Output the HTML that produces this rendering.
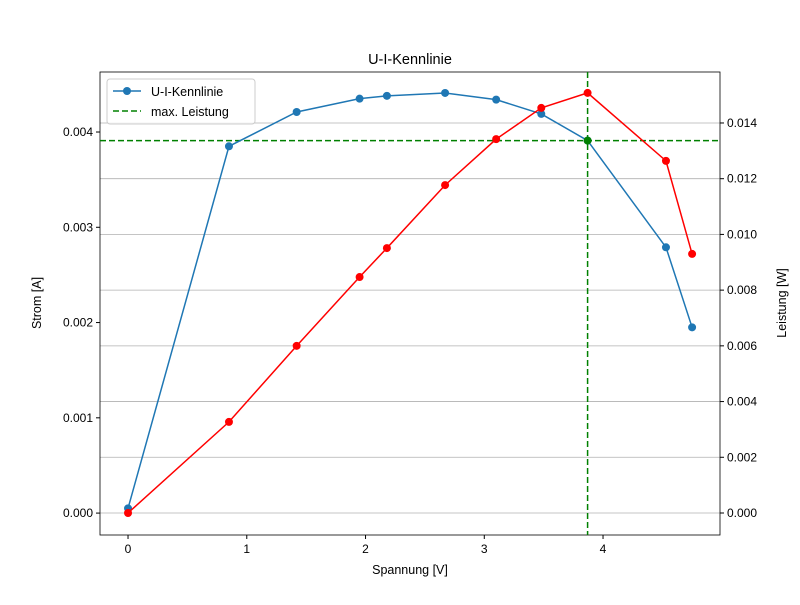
<!DOCTYPE html>
<html><head><meta charset="utf-8"><style>
body{margin:0;background:#fff}
svg{font-family:"Liberation Sans","DejaVu Sans",sans-serif}
</style></head><body>
<svg id="c" width="800" height="600"></svg>
<script>
const voltage=[0,0.85,1.42,1.95,2.18,2.67,3.10,3.48,3.87,4.53,4.75];
const current=[0.00005,0.00385,0.00421,0.00435,0.00438,0.00441,0.00434,0.00419,0.00391,0.00279,0.00195];
const power=[0,0.00327,0.00600,0.00847,0.00951,0.01177,0.01342,0.01454,0.01508,0.01264,0.00930];
const maxV=3.87, maxI=0.00391;
const xTicks=[0,1,2,3,4];
const yLTicks=[0,0.001,0.002,0.003,0.004];
const yRTicks=[0,0.002,0.004,0.006,0.008,0.010,0.012,0.014];
const L=100,R=720,T=72,B=535;
const xs=v=>L+(v+0.236)/(4.985+0.236)*(R-L);
const yl=v=>B-(v+0.00023)/(0.00463+0.00023)*(B-T);
const yr=v=>B-(v+0.00079)/(0.01583+0.00079)*(B-T);
const svg=document.getElementById('c');const NS='http://www.w3.org/2000/svg';
function mk(t,a,p){const e=document.createElementNS(NS,t);for(const k in a)e.setAttribute(k,a[k]);(p||svg).appendChild(e);return e;}
function tx(s,x,y,a){const e=mk('text',Object.assign({x:x,y:y,'font-size':12,fill:'#000'},a));e.textContent=s;return e;}
yRTicks.forEach(v=>{const g=mk('line',{x1:L,x2:R,y1:yr(v),y2:yr(v),stroke:'#b0b0b0','stroke-width':0.8});

});
// axes frame
const f=mk('rect',{x:L,y:T,width:R-L,height:B-T,fill:'none',stroke:'#000','stroke-width':0.8});


xTicks.forEach(v=>{mk('line',{x1:xs(v),x2:xs(v),y1:B,y2:B+4,stroke:'#000'});const t=tx(String(v),xs(v),B+18,{'text-anchor':'middle','font-size':12});

});
yLTicks.forEach(v=>{mk('line',{x1:L-4,x2:L,y1:yl(v),y2:yl(v),stroke:'#000'});const t=tx(v.toFixed(3),L-7,yl(v)+4,{'text-anchor':'end'});

});
yRTicks.forEach(v=>{mk('line',{x1:R,x2:R+4,y1:yr(v),y2:yr(v),stroke:'#000'});const t=tx(v.toFixed(3),R+7,yr(v)+4,{'text-anchor':'start'});

});
// green lines
const gv=mk('line',{x1:xs(maxV),x2:xs(maxV),y1:T,y2:B,stroke:'green','stroke-width':1.5,'stroke-dasharray':'6,3'});


const gh=mk('line',{x1:L,x2:R,y1:yl(maxI),y2:yl(maxI),stroke:'green','stroke-width':1.5,'stroke-dasharray':'6,3'});


// blue
const bl=mk('polyline',{points:voltage.map((v,i)=>xs(v)+','+yl(current[i])).join(' '),fill:'none',stroke:'#1f77b4','stroke-width':1.5});


voltage.forEach((v,i)=>{const c=mk('circle',{cx:xs(v),cy:yl(current[i]),r:4,fill:'#1f77b4'});

});
const rl=mk('polyline',{points:voltage.map((v,i)=>xs(v)+','+yr(power[i])).join(' '),fill:'none',stroke:'red','stroke-width':1.5});


voltage.forEach((v,i)=>{const c=mk('circle',{cx:xs(v),cy:yr(power[i]),r:4,fill:'red'});

});
const gp=mk('circle',{cx:xs(maxV),cy:yl(maxI),r:4,fill:'green'});


// labels
const ti=tx('U-I-Kennlinie',410,64,{'text-anchor':'middle','font-size':14.5});


const xl=tx('Spannung [V]',410,574,{'text-anchor':'middle','font-size':12.5});


const yL=tx('Strom [A]',0,0,{'text-anchor':'middle','font-size':12.5,transform:'translate(41,303) rotate(-90)'});


const yR=tx('Leistung [W]',0,0,{'text-anchor':'middle','font-size':12.5,transform:'translate(786,303) rotate(-90)'});


// legend
const lg=mk('g',{});


mk('rect',{x:107,y:79,width:148,height:45,rx:3,fill:'#fff','fill-opacity':0.8,stroke:'#ccc'},lg);
mk('line',{x1:113,x2:141,y1:91,y2:91,stroke:'#1f77b4','stroke-width':1.5},lg);
mk('circle',{cx:127,cy:91,r:4,fill:'#1f77b4'},lg);
const l1=tx('U-I-Kennlinie',151,96,{'font-size':12.5});lg.appendChild(l1);


mk('line',{x1:113,x2:141,y1:111,y2:111,stroke:'green','stroke-width':1.5,'stroke-dasharray':'6,3'},lg);
const l2=tx('max. Leistung',151,116,{'font-size':12.5});lg.appendChild(l2);


</script>
</body></html>
